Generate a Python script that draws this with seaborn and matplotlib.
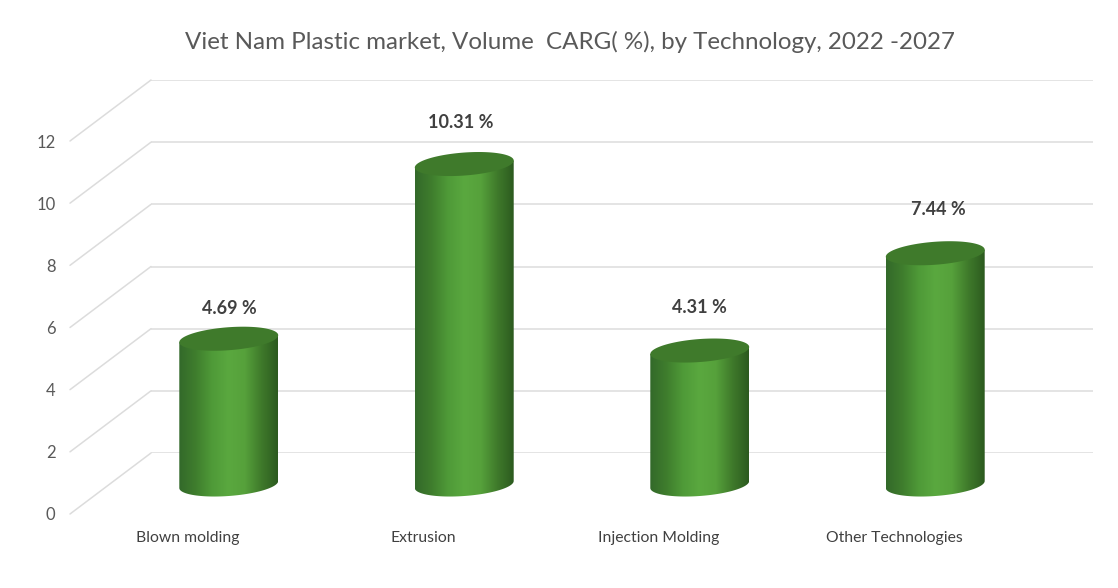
import numpy as np
import matplotlib
matplotlib.use("Agg")
import matplotlib.pyplot as plt
import pandas as pd
import seaborn as sns
from matplotlib.colors import LinearSegmentedColormap
from matplotlib.patches import ConnectionPatch, Polygon

categories = ["Blown molding", "Extrusion", "Injection Molding", "Other Technologies"]
cagr_values = [4.69, 10.31, 4.31, 7.44]
value_labels = ["4.69 %", "10.31 %", "4.31 %", "7.44 %"]
y_ticks = [0, 2, 4, 6, 8, 10, 12]

W, H = 1118, 588
FRONT_LEFT, FRONT_ZERO, TOP_RANGE = 70, 514, 373
PLANE_W = 942
# label nudges in pixels, excel puts these a bit unevenly
LABEL_NUDGE = [(1, 30), (-4, 42), (0, 43), (3, 44)]

sns.set_theme(style="white")
plt.rcParams["font.family"] = ["Lato", "DejaVu Sans"]

df = pd.DataFrame({"tech": categories, "cagr": cagr_values})
fig = plt.figure(figsize=(W / 100, H / 100), dpi=100)


def plane(dx, dy):
    # fake 3d: same axes size, shifted back along the floor
    ax = fig.add_axes([(FRONT_LEFT + dx) / W, (H - FRONT_ZERO + dy) / H, PLANE_W / W, TOP_RANGE / H])
    ax.set_ylim(0, 12)
    ax.set_xlim(-0.5, 3.5)
    ax.patch.set_visible(False)
    sns.despine(ax=ax, left=True, bottom=True)
    return ax


# back wall with gridlines
wall = plane(81, 61)
wall.set_xticks([])
wall.set_yticks(y_ticks)
wall.set_yticklabels([])
wall.tick_params(length=0)
wall.grid(axis="y", color="#dcdcdc", lw=1.1)
wall.grid(axis="x", visible=False)

# front plane carries the tick labels
front = plane(0, 0)
front.set_yticks(y_ticks)
front.set_xticks(range(len(categories)))
front.set_xticklabels(categories, fontsize=11.3, color="#404040")
front.tick_params(axis="x", length=0, pad=12)
front.tick_params(axis="y", length=0, pad=10.5, labelsize=12, labelcolor="#595959")

for v in y_ticks:
    fig.add_artist(ConnectionPatch((0, v), (0, v),
                                   coordsA=front.get_yaxis_transform(),
                                   coordsB=wall.get_yaxis_transform(),
                                   color="#dcdcdc", lw=1.1))

# cylinders sit half way back
ax = plane(41, 29.5)
sns.barplot(data=df, x="tech", y="cagr", ax=ax, width=0.42, color="#4f9a38")
ax.set_xlabel("")
ax.set_ylabel("")
ax.set_xticks([])
ax.set_yticks([])

side_cmap = LinearSegmentedColormap.from_list(
    "side", ["#33692a", "#3f7d2d", "#4f9a38", "#5aa83f", "#56a13b", "#3f7a2b", "#2c5a1f"])
gradient = np.linspace(0, 1, 256).reshape(1, -1)
tilt, minor = 0.113, 0.37
t = np.linspace(0, 2 * np.pi, 120)
arc = np.linspace(np.pi, 2 * np.pi, 60)

for i, bar in enumerate(ax.patches):
    xc = bar.get_x() + bar.get_width() / 2
    half = bar.get_width() / 2
    v = bar.get_height()
    bar.set_visible(False)

    bottom = np.column_stack([xc + half * np.cos(arc), tilt * np.cos(arc) + minor * np.sin(arc)])
    side = np.vstack([[[xc - half, v - tilt]], bottom, [[xc + half, v + tilt]]])
    img = ax.imshow(gradient, cmap=side_cmap, aspect="auto", zorder=2,
                    extent=(xc - half, xc + half, -1, v + 1))
    img.set_clip_box(fig.bbox)
    img.set_clip_path(Polygon(side, closed=True, transform=ax.transData))

    top = np.column_stack([xc + half * np.cos(t), v + tilt * np.cos(t) + minor * np.sin(t)])
    ax.add_patch(Polygon(top, closed=True, fc="#3f7a2b", ec="none", zorder=3))

    nudge = LABEL_NUDGE[i]
    ax.annotate(value_labels[i], (xc, v), xytext=nudge, textcoords="offset pixels",
                ha="center", va="center", fontsize=13, fontweight="bold", color="#404040")

ax.set_xlim(-0.5, 3.5)
ax.set_ylim(0, 12)
for s in ax.spines.values():
    s.set_visible(False)

fig.text(570 / W, 1 - 42 / H, "Viet Nam Plastic market, Volume  CARG( %), by Technology, 2022 -2027",
         ha="center", va="center", fontsize=17.4, color="#595959")

fig.savefig("out.png", dpi=100, facecolor="white")
